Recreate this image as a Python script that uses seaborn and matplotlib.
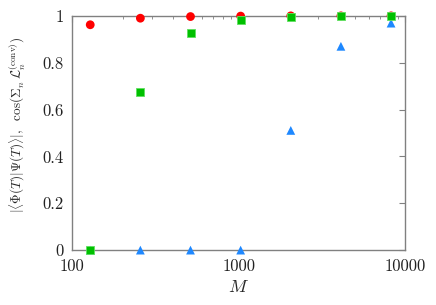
import matplotlib
matplotlib.use("Agg")
import matplotlib.pyplot as plt
import matplotlib.ticker as mticker
import pandas as pd
import seaborn as sns

# data
M = [128, 256, 512, 1024, 2048, 4096, 8192]
red_vals = [0.962, 0.990, 0.997, 0.999, 1.0, 1.0, 1.0]
green_vals = [0.0, 0.674, 0.926, 0.981, 0.995, 0.999, 1.0]
blue_vals = [0.0, 0.0, 0.0, 0.0, 0.511, 0.870, 0.969]

sns.set_style("white")
plt.rcParams['font.family'] = 'serif'
plt.rcParams['font.serif'] = ['cmr10']
plt.rcParams['mathtext.fontset'] = 'cm'
plt.rcParams['axes.formatter.use_mathtext'] = True

fig, ax = plt.subplots(figsize=(4.36, 3.05), dpi=100)
fig.subplots_adjust(left=0.166, right=0.93, top=0.948, bottom=0.18)

df = pd.DataFrame({'M': M, 'red': red_vals, 'green': green_vals, 'blue': blue_vals})
sns.scatterplot(data=df, x='M', y='red', ax=ax, color='#ff0000', marker='o',
                s=40, edgecolor='none', clip_on=False, zorder=3)
sns.scatterplot(data=df, x='M', y='blue', ax=ax, color='#1e88ff', marker='^',
                s=40, edgecolor='none', clip_on=False, zorder=4)
sns.scatterplot(data=df, x='M', y='green', ax=ax, color='#00c000', marker='s',
                s=40, edgecolor='#60e060', linewidth=0.6, clip_on=False, zorder=5)

ax.set_xscale('log')
ax.set_xlim(100, 10000)
ax.set_ylim(0, 1)
ax.set_xticks([100, 1000, 10000])
ax.xaxis.set_major_formatter(mticker.FixedFormatter(['100', '1000', '10000']))
ax.xaxis.set_minor_formatter(mticker.NullFormatter())
ax.set_yticks([0, 0.2, 0.4, 0.6, 0.8, 1])
ax.set_yticklabels(['0', '0.2', '0.4', '0.6', '0.8', '1'])

for sp in ax.spines.values():
    sp.set_color('#808080')
    sp.set_linewidth(1.0)
ax.tick_params(which='both', direction='in', top=True, right=True,
               color='#808080', labelsize=12, labelcolor='#222222')
ax.tick_params(which='major', length=4, pad=6)
ax.tick_params(which='minor', length=2)

ax.set_xlabel(r'$M$', fontsize=13, labelpad=4)
ax.set_ylabel(r'$|\langle\Phi(T)|\Psi(T)\rangle|,\ \ \cos(\Sigma_n\,\mathcal{L}_n^{(\mathrm{conv})})$',
              fontsize=9.5)
ax.yaxis.set_label_coords(-0.135, 0.534)

fig.savefig('out.png', dpi=100)
